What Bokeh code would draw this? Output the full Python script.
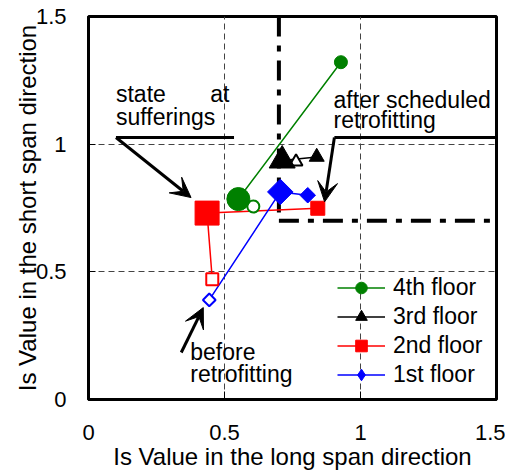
import math
from bokeh.plotting import figure
from bokeh.models import Range1d, FixedTicker, Legend, LegendItem, Arrow, VeeHead, NumeralTickFormatter
from bokeh.core.properties import value
from bokeh.embed import file_html
from bokeh.resources import INLINE

# ---------------- data ----------------
floors = ["4th floor", "3rd floor", "2nd floor", "1st floor"]
x_before = [0.606, 0.763, 0.455, 0.444]
y_before = [0.756, 0.931, 0.471, 0.390]
x_suffer = [0.551, 0.712, 0.436, 0.705]
y_suffer = [0.785, 0.936, 0.730, 0.813]
x_after = [0.928, 0.839, 0.843, 0.806]
y_after = [1.321, 0.950, 0.749, 0.800]

crit_vx = [0.7, 0.7]
crit_vy = [1.5, 0.7]
crit_hx = [0.7, 1.5]
crit_hy = [0.7, 0.7]

tick_values = [0, 0.5, 1, 1.5]

# ---------------- styles ----------------
colors = ["#008000", "#000000", "#ff0000", "#0000ff"]
markers = ["circle", "triangle", "square", "square"]
legend_markers = ["circle", "triangle", "square", "diamond"]
angles = [0, 0, 0, math.pi / 4]
size_before = [12, 13, 12, 9]
size_suffer = [23, 26, 24, 18]
size_after = [13, 15, 14, 11]
FONT = "Liberation Sans"

p = figure(width=505, height=476, output_backend="svg", toolbar_location=None,
           x_range=Range1d(0, 1.5), y_range=Range1d(0, 1.5),
           min_border_left=88, min_border_right=9, min_border_top=16, min_border_bottom=77)
p.background_fill_color = "white"
p.border_fill_color = "white"
p.outline_line_color = "black"
p.outline_line_width = 3

for ax in (p.xaxis[0], p.yaxis[0]):
    ax.ticker = FixedTicker(ticks=tick_values)
    ax.formatter = NumeralTickFormatter(format="0.[0]")
    ax.axis_line_width = 3
    ax.axis_line_color = "black"
    ax.major_tick_out = 0
    ax.major_tick_line_color = "black"
    ax.minor_tick_line_color = None
    ax.major_label_text_font = FONT
    ax.major_label_text_font_size = "22px"
    ax.major_label_text_color = "black"
    ax.axis_label_text_font = FONT
    ax.axis_label_text_font_size = "24px"
    ax.axis_label_text_font_style = "normal"
    ax.axis_label_text_color = "black"

p.xaxis.axis_label = "Is Value in the long span direction"
p.yaxis.axis_label = "Is Value in the short span direction"
p.xaxis.major_tick_in = 8
p.yaxis.major_tick_in = 7
p.xaxis.major_label_standoff = 25
p.xaxis.axis_label_standoff = 0
p.yaxis.major_label_standoff = 22
p.yaxis.axis_label_standoff = -8

for g in (p.xgrid[0], p.ygrid[0]):
    g.ticker = FixedTicker(ticks=tick_values)
    g.grid_line_color = "#444444"
    g.grid_line_width = 1
    g.grid_line_dash = "6 4"

# criterion lines (dash-dot, thick)
p.line(crit_vx, crit_vy, line_color="black", line_width=4, line_dash="20 9 6 9")
p.line(crit_hx, crit_hy, line_color="black", line_width=4, line_dash="20 9 6 9")

line_renderers = []
for i in range(4):
    xs = [x_before[i], x_suffer[i], x_after[i]]
    ys = [y_before[i], y_suffer[i], y_after[i]]
    r = p.line(xs, ys, line_color=colors[i], line_width=1.5)
    line_renderers.append(r)

legend_marker_renderers = []
for i in range(4):
    p.scatter([x_before[i]], [y_before[i]], marker=markers[i], size=size_before[i], angle=angles[i],
              fill_color="white", line_color=colors[i], line_width=2)
    p.scatter([x_suffer[i]], [y_suffer[i]], marker=markers[i], size=size_suffer[i], angle=angles[i],
              fill_color=colors[i], line_color=colors[i], line_width=1)
    r = p.scatter([x_after[i]], [y_after[i]], marker=markers[i], size=size_after[i], angle=angles[i],
                  fill_color=colors[i], line_color=colors[i], line_width=1)
    if legend_markers[i] != markers[i]:
        # same point, same colour, drawn inside the rotated square: only gives the legend its diamond
        r = p.scatter([x_after[i]], [y_after[i]], marker=legend_markers[i], size=size_after[i] - 1,
                      fill_color=colors[i], line_color=colors[i], line_width=1)
    legend_marker_renderers.append(r)

# annotations
txt = dict(text_font=value(FONT), text_font_size="23px", text_color="black", text_baseline="alphabetic")
p.text([0.101], [1.197], text=["state"], text_align="left", **txt)
p.text([0.518], [1.197], text=["at"], text_align="right", **txt)
p.text([0.101], [1.108], text=["sufferings"], text_align="left", **txt)
p.text([0.901], [1.173], text=["after scheduled"], text_align="left", **txt)
p.text([0.901], [1.095], text=["retrofitting"], text_align="left", **txt)
p.text([0.374], [0.185], text=["before"], text_align="left", **txt)
p.text([0.374], [0.101], text=["retrofitting"], text_align="left", **txt)

p.line([0.101, 0.535], [1.026, 1.026], line_color="black", line_width=3)
p.line([1.5, 0.904], [1.026, 1.026], line_color="black", line_width=3)

def arrow(x0, y0, x1, y1):
    p.add_layout(Arrow(x_start=x0, y_start=y0, x_end=x1, y_end=y1, line_width=3, line_color="black",
                       end=VeeHead(size=20, fill_color="black", line_color="black", line_width=1)))

arrow(0.101, 1.026, 0.377, 0.791)
arrow(0.904, 1.026, 0.868, 0.774)
arrow(0.341, 0.184, 0.422, 0.360)

legend = Legend(items=[LegendItem(label=floors[i],
                                  renderers=[line_renderers[i], legend_marker_renderers[i]])
                       for i in range(4)],
                location=(249, 10), glyph_width=48, glyph_height=29, label_height=29, spacing=0,
                padding=0, margin=0, label_standoff=8, border_line_color=None,
                background_fill_alpha=0, label_text_font=FONT, label_text_font_size="23px",
                label_text_color="black")
p.add_layout(legend)

open("out.html", "w").write(file_html(p, INLINE))
